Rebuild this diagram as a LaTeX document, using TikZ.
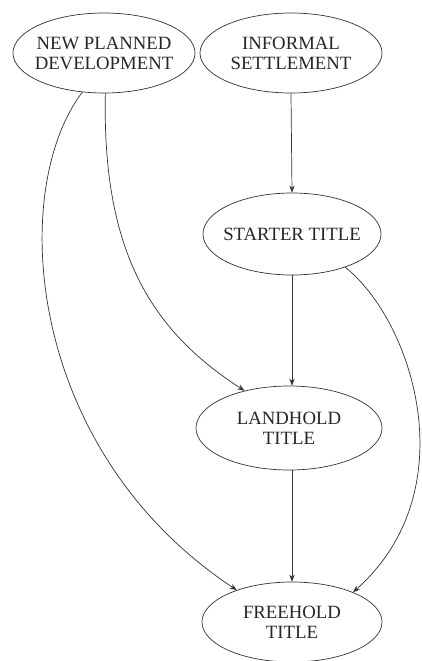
\documentclass[tikz,border=0pt]{standalone}
\usepackage{fontspec}
\setmainfont{Liberation Serif}
\usetikzlibrary{shapes.geometric,arrows.meta}
\begin{document}
\begin{tikzpicture}[x=0.03cm,y=-0.03cm,
  oval/.style={ellipse,draw=black!80,line width=0.6pt,inner sep=0pt},
  txt/.style={align=center,font=\fontsize{16}{17}\selectfont,text=black!85,inner sep=0pt},
  link/.style={draw=black!80,line width=0.6pt,-{Stealth[length=6pt,width=4.5pt]}}]
\useasboundingbox[fill=white] (0,0) rectangle (422,661);
\node[oval,minimum width=5.46cm,minimum height=2.4cm] (npd) at (104,53) {};
\node[txt] (npdt) at (npd.center) {NEW PLANNED\\DEVELOPMENT};
\node[oval,minimum width=5.46cm,minimum height=2.4cm] (inf) at (291,53) {};
\node[txt] (inft) at (inf.center) {INFORMAL\\SETTLEMENT};
\node[oval,minimum width=5.34cm,minimum height=2.46cm] (st) at (292,234) {};
\node[txt] (stt) at (st.center) {STARTER TITLE};
\node[oval,minimum width=5.58cm,minimum height=2.52cm] (lh) at (289,428) {};
\node[txt] (lht) at (lh.center) {LANDHOLD\\TITLE};
\node[oval,minimum width=5.4cm,minimum height=2.4cm] (fh) at (292,622) {};
\node[txt] (fht) at (fh.center) {FREEHOLD\\TITLE};
\draw[link] (inf.south) -- (st.north);
\draw[link] (st.south) -- (lh.north -| st.south);
\draw[link] (lh.south -| fh.north) -- (fh.north);
\draw[link] (npd.272) .. controls (102,250) and (150,330) .. (lh.140);
\draw[link] (npd.241) .. controls (8,190) and (25,450) .. (fh.150);
\draw[link] (st.-32) .. controls (412,320) and (468,490) .. (fh.26);
\end{tikzpicture}
\end{document}
